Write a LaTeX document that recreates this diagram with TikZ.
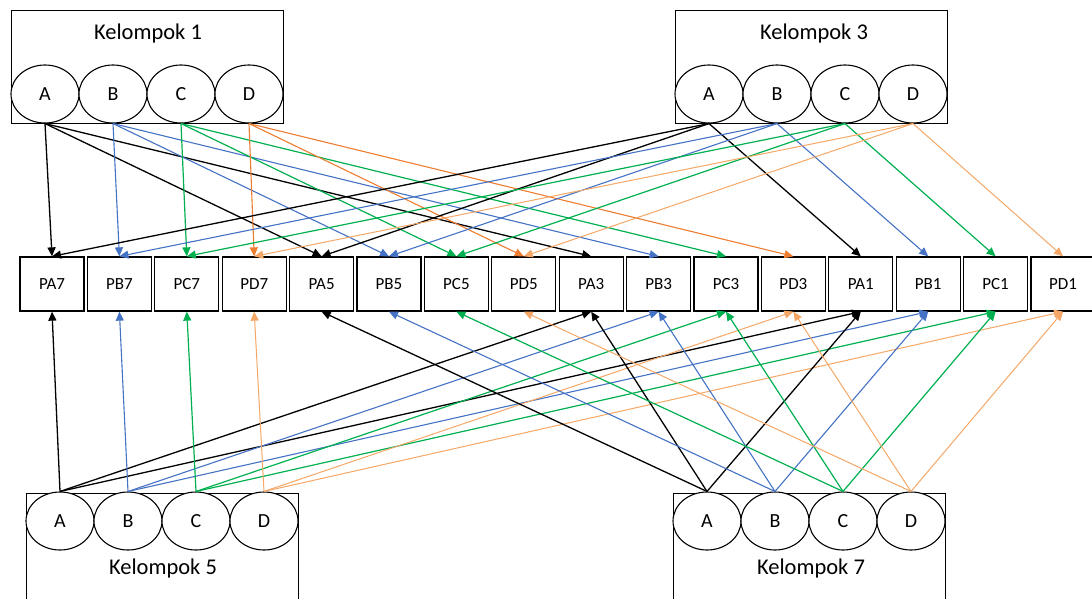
\documentclass[tikz,border=0pt]{standalone}
\usepackage{fontspec}
\setmainfont{Carlito}
\usetikzlibrary{shapes.geometric,arrows.meta}
\definecolor{linkblue}{HTML}{4472C4}
\definecolor{linkgreen}{HTML}{00B050}
\definecolor{linkorange}{HTML}{ED7D31}
\definecolor{linkpeach}{HTML}{F4A766}
\tikzset{
  groupbox/.style={draw, line width=1.3pt, rectangle, inner sep=0pt, minimum width=272pt},
  grouplabel/.style={inner sep=0pt, font=\fontsize{22.5}{22.5}\selectfont},
  member/.style={draw, ellipse, line width=1.1pt, fill=white, minimum width=68pt,
    minimum height=58pt, inner sep=0pt, font=\fontsize{20}{20}\selectfont},
  post/.style={draw, line width=1.3pt, fill=white, minimum width=64pt,
    minimum height=54pt, inner sep=0pt, font=\fontsize{17}{17}\selectfont},
  link/.style={-{Triangle[length=9pt,width=8pt]}, line width=#1},
  link/.default=1pt
}
\begin{document}
\begin{tikzpicture}[x=1pt,y=-1pt]
\useasboundingbox (0,0) rectangle (1092,598);
\clip (0,0) rectangle (1092,598);

% group frames
\node[groupbox, minimum height=113pt, anchor=north west] (g1) at (11,10) {};
\node[groupbox, minimum height=113pt, anchor=north west] (g3) at (675,10) {};
\node[groupbox, minimum height=130pt, anchor=north west] (g5) at (26,493) {};
\node[groupbox, minimum height=130pt, anchor=north west] (g7) at (673,493) {};
\node[grouplabel] (t1) at (148,33) {Kelompok 1};
\node[grouplabel] (t3) at (814,33) {Kelompok 3};
\node[grouplabel] (t5) at (163,568) {Kelompok 5};
\node[grouplabel] (t7) at (811,568) {Kelompok 7};

% members of each group
\foreach \g/\x/\y in {1/11/94, 3/675/94, 5/26/521, 7/673/521}
  \foreach \L [count=\k from 0] in {A,B,C,D}
    \node[member] (k\g\L) at ({\x+34+68*\k},\y) {\L};

% posts
\foreach \n [count=\i from 0] in {A7,B7,C7,D7,A5,B5,C5,D5,A3,B3,C3,D3,A1,B1,C1,D1}
  \node[post] (p\n) at ({52+67.4*\i},284) {P\n};

% group 1 -> posts 7, 5, 3
\foreach \L/\c/\w in {A/black/1.3pt, B/linkblue/1.1pt, C/linkgreen/1.2pt, D/linkorange/1.1pt}
  \foreach \t in {7,5,3}
    \draw[link=\w, \c] (k1\L.south) -- (p\L\t.north);

% group 3 -> posts 7, 5, 1
\foreach \L/\c/\w in {A/black/1.3pt, B/linkblue/1.1pt, C/linkgreen/1.2pt, D/linkpeach/1pt}
  \foreach \t in {7,5,1}
    \draw[link=\w, \c] (k3\L.south) -- (p\L\t.north);

% group 5 -> posts 7, 3, 1
\foreach \L/\c/\w in {A/black/1.3pt, B/linkblue/1.1pt, C/linkgreen/1.2pt, D/linkpeach/1pt}
  \foreach \t in {7,3,1}
    \draw[link=\w, \c] (k5\L.north) -- (p\L\t.south);

% group 7 -> posts 5, 3, 1
\foreach \L/\c/\w in {A/black/1.3pt, B/linkblue/1.1pt, C/linkgreen/1.2pt, D/linkpeach/1pt}
  \foreach \t in {5,3,1}
    \draw[link=\w, \c] (k7\L.north) -- (p\L\t.south);
\end{tikzpicture}
\end{document}
